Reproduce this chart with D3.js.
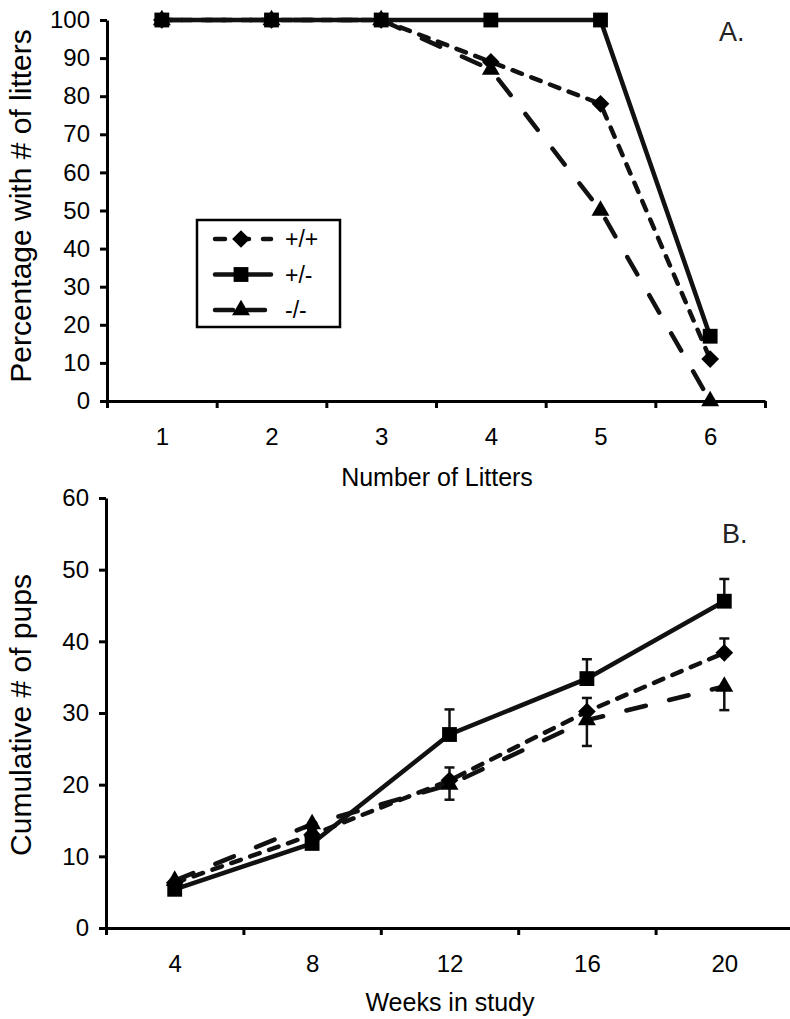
<!DOCTYPE html>
<meta charset="utf-8">
<style>
body { margin: 0; background: #fff; }
svg { display: block; font-family: "Liberation Sans", Arial, sans-serif; }
.axis path, .axis line { stroke: #000; stroke-width: 3px; }
.axis text { font-size: 24px; fill: #000; font-family: "Liberation Sans", Arial, sans-serif; }
.line { fill: none; stroke: #111; stroke-width: 4.5px; stroke-linecap: round; }
.err { stroke: #111; stroke-width: 2.5px; }
</style>
<body>
<svg width="790" height="1019"></svg>
<script src="https://cdn.jsdelivr.net/npm/d3@7"></script>
<script>

// panel A: percentage of females with n litters
var litters = [1, 2, 3, 4, 5, 6];
var pctWT  = [100, 100, 100, 89, 78, 11];   // +/+
var pctHet = [100, 100, 100, 100, 100, 17]; // +/-
var pctKO  = [100, 100, 100, 87, 50, 0];    // -/-
var ticksA = [0, 10, 20, 30, 40, 50, 60, 70, 80, 90, 100];

// panel B: cumulative pups
var weeks = [4, 8, 12, 16, 20];
var pupsWT  = [6.3, 13.0, 20.6, 30.2, 38.4];
var pupsHet = [5.4, 11.8, 27.0, 34.8, 45.6];
var pupsKO  = [6.6, 14.5, 20.0, 29.0, 33.7];
var errWT  = [0.4, 0.6, 1.8, 1.9, 2.0];   // drawn upward
var errHet = [0.5, 0.7, 3.5, 2.7, 3.1];   // drawn upward
var errKO  = [0.5, 0.8, 2.1, 3.6, 3.3];   // drawn downward
var ticksB = [0, 10, 20, 30, 40, 50, 60];

var genotypes = ["+/+", "+/-", "-/-"];
var markers = { "+/+": d3.symbolDiamond2, "+/-": d3.symbolSquare2, "-/-": d3.symbolTriangle2 };
var markerSize = { "+/+": 200, "+/-": 280, "-/-": 230 };
var dashes = { "+/+": "10,10", "+/-": null, "-/-": "20,24" };

var svg = d3.select("svg");

function symbolPath(g) {
  return d3.symbol().type(markers[g]).size(markerSize[g])();
}

function drawPanel(opts) {
  var x = d3.scaleLinear().domain([0, opts.cats.length]).range(opts.xr);
  var y = d3.scaleLinear().domain(opts.yd).range(opts.yr);
  var cx = function(i) { return x(i + 0.5); };

  // y axis
  svg.append("g")
      .attr("class", "axis")
      .attr("transform", "translate(" + opts.xr[0] + ",0)")
      .call(d3.axisLeft(y).tickValues(opts.yticks).tickSize(7).tickSizeOuter(0).tickPadding(10));

  // x axis: ticks between categories
  svg.append("g")
      .attr("class", "axis")
      .attr("transform", "translate(0," + opts.yr[0] + ")")
      .call(d3.axisBottom(x).tickValues(d3.range(0, opts.cats.length + 1)).tickSize(7).tickSizeOuter(0).tickFormat(""));

  // category labels
  svg.append("g")
      .attr("class", "axis")
      .attr("transform", "translate(0," + opts.yr[0] + ")")
      .call(d3.axisBottom(x).tickValues(opts.cats.map(function(c, i) { return i + 0.5; }))
        .tickSize(0).tickPadding(27).tickFormat(function(d, i) { return opts.cats[i]; }))
      .select(".domain").remove();

  svg.append("text")
      .attr("transform", "translate(" + opts.ylabX + "," + opts.ylabY + ") rotate(-90)")
      .attr("text-anchor", "middle")
      .style("font-size", "30px")
      .text(opts.ylabel);

  svg.append("text")
      .attr("x", opts.xlabX)
      .attr("y", opts.xlabY)
      .attr("text-anchor", "middle")
      .style("font-size", "25px")
      .text(opts.xlabel);

  svg.append("text")
      .attr("x", opts.tagX)
      .attr("y", opts.tagY)
      .style("font-size", "27px")
      .style("fill", "#222")
      .text(opts.tag);

  var line = d3.line().x(function(d, i) { return cx(i); }).y(function(d) { return y(d); });

  var series = opts.series;
  // error bars
  series.forEach(function(s) {
    if (!s.err) return;
    var g = svg.append("g");
    s.values.forEach(function(v, i) {
      var v2 = v + s.dir * s.err[i];
      g.append("line").attr("class", "err")
          .attr("x1", cx(i)).attr("x2", cx(i)).attr("y1", y(v)).attr("y2", y(v2));
      g.append("line").attr("class", "err")
          .attr("x1", cx(i) - 5).attr("x2", cx(i) + 5).attr("y1", y(v2)).attr("y2", y(v2));
    });
  });

  series.forEach(function(s) {
    svg.append("path")
        .datum(s.values)
        .attr("class", "line")
        .attr("stroke-dasharray", dashes[s.key])
        .attr("d", line);
    svg.append("g").selectAll("path")
        .data(s.values)
        .enter().append("path")
        .attr("d", symbolPath(s.key))
        .attr("fill", "#000")
        .attr("transform", function(d, i) { return "translate(" + cx(i) + "," + y(d) + ")"; });
  });
}

drawPanel({
  cats: litters, xr: [107, 765], yd: [0, 100], yr: [401, 20], yticks: ticksA,
  ylabel: "Percentage with # of litters", ylabX: 31, ylabY: 206,
  xlabel: "Number of Litters", xlabX: 437, xlabY: 486,
  tag: "A.", tagX: 719, tagY: 41,
  series: [
    { key: "-/-", values: pctKO },
    { key: "+/+", values: pctWT },
    { key: "+/-", values: pctHet }
  ]
});

drawPanel({
  cats: weeks, xr: [106, 793], yd: [0, 60], yr: [928, 498], yticks: ticksB,
  ylabel: "Cumulative # of pups", ylabX: 31, ylabY: 715,
  xlabel: "Weeks in study", xlabX: 450, xlabY: 1011,
  tag: "B.", tagX: 722, tagY: 543,
  series: [
    { key: "-/-", values: pupsKO, err: errKO, dir: -1 },
    { key: "+/+", values: pupsWT, err: errWT, dir: 1 },
    { key: "+/-", values: pupsHet, err: errHet, dir: 1 }
  ]
});

// legend
var legend = svg.append("g").attr("transform", "translate(197,220)");
legend.append("rect")
    .attr("width", 143).attr("height", 107)
    .attr("fill", "#fff").attr("stroke", "#000").attr("stroke-width", 2.5);
var row = d3.scalePoint().domain(genotypes).range([19, 90]);
var item = legend.selectAll(".item").data(genotypes).enter().append("g")
    .attr("transform", function(d) { return "translate(0," + row(d) + ")"; });
item.append("line")
    .attr("class", "line")
    .attr("x1", 18).attr("x2", 74)
    .attr("stroke-dasharray", function(d) { return dashes[d] ? (d === "+/+" ? "10,14" : "18,14") : null; });
item.append("path")
    .attr("d", function(d) { return symbolPath(d); })
    .attr("transform", "translate(44,0)");
item.append("text")
    .attr("x", 88).attr("y", 8)
    .style("font-size", "23px")
    .text(function(d) { return d; });

</script>
</body>
